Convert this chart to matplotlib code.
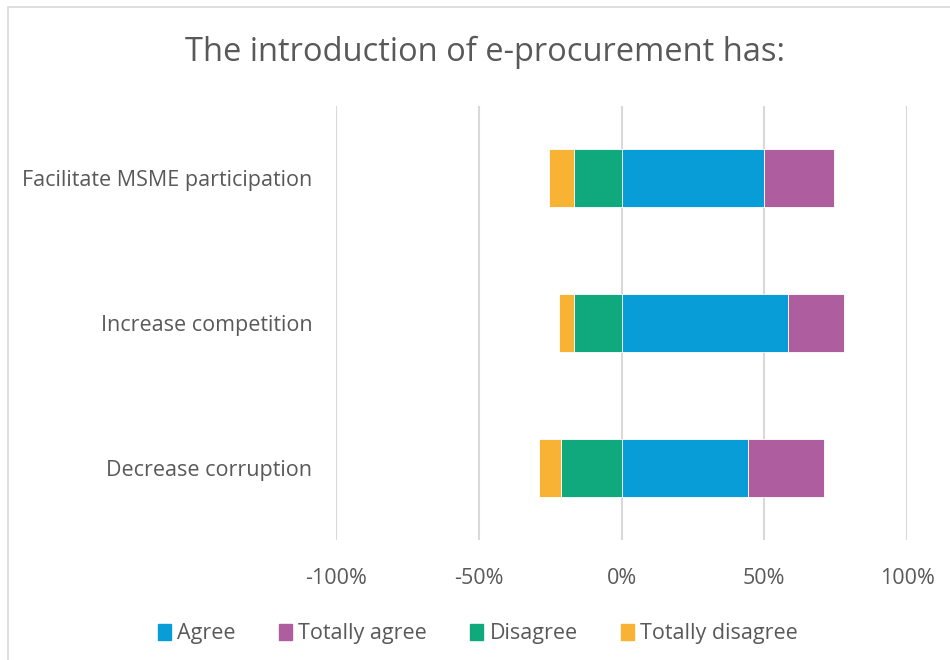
import numpy as np
import matplotlib
matplotlib.use("Agg")
import matplotlib.pyplot as plt
from matplotlib.patches import Rectangle, Patch

plt.rcParams['font.family'] = ['Open Sans', 'DejaVu Sans']

# 数据（从图中读取，单位 %）
categories = ["Facilitate MSME participation", "Increase competition", "Decrease corruption"]
agree = [50.0, 58.4, 44.2]
totally_agree = [24.4, 19.5, 26.6]
disagree = [16.5, 16.8, 21.3]
totally_disagree = [9.0, 5.1, 7.6]
tick_vals = [-100, -50, 0, 50, 100]
tick_labels = ["-100%", "-50%", "0%", "50%", "100%"]

C_AGREE = "#099DD7"
C_TAGREE = "#AE5E9E"
C_DIS = "#10A97E"
C_TDIS = "#F8B335"
TXT = "#595959"
GRID = "#D9D9D9"

fig = plt.figure(figsize=(9.5, 6.6), dpi=100)
ax = fig.add_axes([336 / 950, 1 - 540 / 660, (907 - 336) / 950, (540 - 106) / 660])

# 外边框（Excel 图表区）
fig.patches.append(Rectangle((8 / 950, -0.1), 1.2, 1 - 7 / 660 + 0.1,
                             transform=fig.transFigure, fill=False,
                             edgecolor=GRID, linewidth=1.2, zorder=0))

y = np.arange(len(categories))[::-1]
agree = np.array(agree)
totally_agree = np.array(totally_agree)
disagree = np.array(disagree)
totally_disagree = np.array(totally_disagree)

h = 0.4
ec = dict(edgecolor="white", linewidth=0.6, zorder=3)
ax.barh(y, agree, height=h, color=C_AGREE, label="Agree", **ec)
ax.barh(y, totally_agree, left=agree, height=h, color=C_TAGREE, label="Totally agree", **ec)
ax.barh(y, -disagree, height=h, color=C_DIS, label="Disagree", **ec)
ax.barh(y, -totally_disagree, left=-disagree, height=h, color=C_TDIS, label="Totally disagree", **ec)

ax.set_xlim(-100, 100)
ax.set_ylim(-0.5, len(categories) - 0.5)
ax.set_xticks(tick_vals)
ax.set_xticklabels(tick_labels)
ax.set_yticks(y)
ax.set_yticklabels(categories)
for v in tick_vals:
    ax.axvline(v, color=GRID, linewidth=1.5, zorder=1)

for s in ax.spines.values():
    s.set_visible(False)
ax.tick_params(axis="both", length=0, colors=TXT, labelsize=15.5)
ax.tick_params(axis="x", pad=20)
ax.tick_params(axis="y", pad=17)

fig.text(485 / 950, 1 - 52 / 660, "The introduction of e-procurement has:",
         ha="center", va="center", fontsize=23.5, color=TXT)

handles = [Patch(color=C_AGREE, label="Agree"),
           Patch(color=C_TAGREE, label="Totally agree"),
           Patch(color=C_DIS, label="Disagree"),
           Patch(color=C_TDIS, label="Totally disagree")]
leg = fig.legend(handles=handles, loc="center", bbox_to_anchor=(478 / 950, 1 - 634 / 660),
                 ncol=4, frameon=False, fontsize=15.5, handlelength=0.6, handleheight=0.8,
                 handletextpad=0.3, columnspacing=2.0)
for t in leg.get_texts():
    t.set_color(TXT)

fig.savefig("out.png", dpi=100)
